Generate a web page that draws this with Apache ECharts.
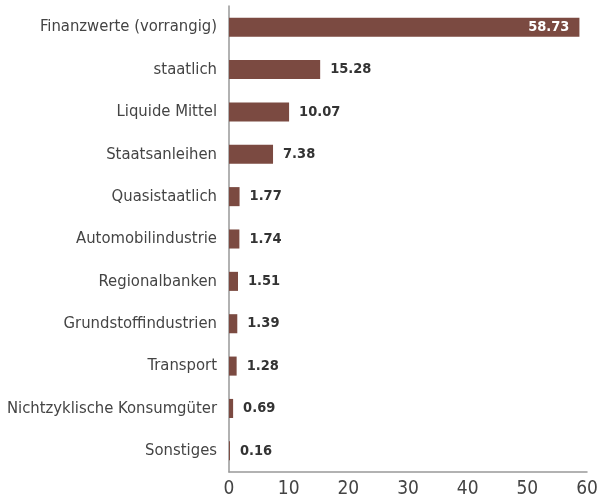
<!DOCTYPE html>
<html>
<head>
<meta charset="utf-8">
<script src="https://cdn.jsdelivr.net/npm/echarts@6/dist/echarts.min.js"></script>
<style>
  html, body { margin: 0; padding: 0; background: #fff; }
  #chart { width: 604px; height: 499px; }
</style>
</head>
<body>
<div id="chart"></div>
<script>
// Kategorien von oben nach unten
var categories = [
  'Finanzwerte (vorrangig)', 'staatlich', 'Liquide Mittel', 'Staatsanleihen',
  'Quasistaatlich', 'Automobilindustrie', 'Regionalbanken', 'Grundstoffindustrien',
  'Transport', 'Nichtzyklische Konsumgüter', 'Sonstiges'
];
var values = [58.73, 15.28, 10.07, 7.38, 1.77, 1.74, 1.51, 1.39, 1.28, 0.69, 0.16];
var xTicks = [0, 10, 20, 30, 40, 50, 60];

var font = '"DejaVu Sans Condensed", sans-serif';
var barColor = '#7b4a41';

var chart = echarts.init(document.getElementById('chart'));

var data = values.map(function (v, i) {
  var item = { value: v };
  if (i === 0) {
    item.label = { position: 'insideRight', color: '#fff', distance: 10 };
  }
  return item;
});

chart.setOption({
  animation: false,
  textStyle: { fontFamily: font },
  grid: { left: 229, right: 17, top: 6, bottom: 27, containLabel: false },
  xAxis: {
    type: 'value',
    min: xTicks[0],
    max: xTicks[xTicks.length - 1],
    interval: 10,
    axisLine: { show: true, lineStyle: { color: '#999', width: 1.5 } },
    axisTick: { show: false },
    splitLine: { show: false },
    axisLabel: { color: '#444', fontSize: 19, fontFamily: font, margin: 8 }
  },
  yAxis: {
    type: 'category',
    inverse: true,
    data: categories,
    axisLine: { show: true, lineStyle: { color: '#999', width: 1.5 } },
    axisTick: { show: false },
    axisLabel: { color: '#444', fontSize: 16.5, fontFamily: font, margin: 12 }
  },
  series: [{
    type: 'bar',
    data: data,
    barWidth: '45%',
    itemStyle: { color: barColor },
    label: {
      show: true,
      position: 'right',
      distance: 10,
      color: '#333',
      fontWeight: 'bold',
      fontSize: 14.5,
      fontFamily: font,
      formatter: function (p) { return p.value.toFixed(2); }
    }
  }]
});
</script>
</body>
</html>
